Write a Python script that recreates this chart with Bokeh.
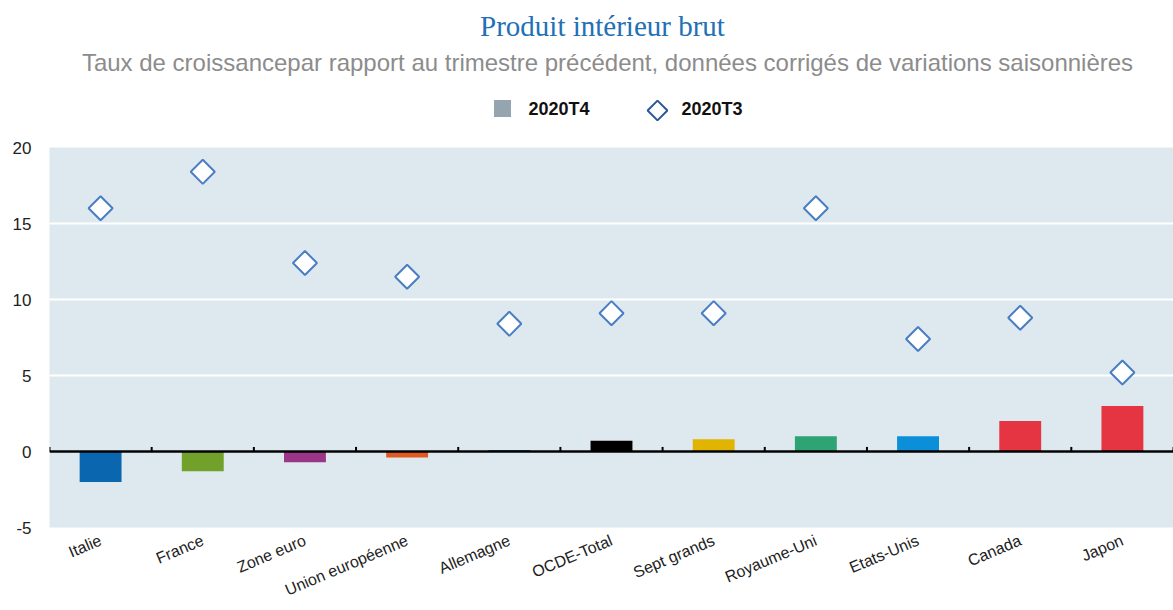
from bokeh.plotting import figure
from bokeh.layouts import column
from bokeh.models import ColumnDataSource, FixedTicker, Span
from bokeh.core.properties import value
from bokeh.embed import file_html
from bokeh.resources import INLINE
import math

title_text = "Produit intérieur brut"
subtitle_text = "Taux de croissancepar rapport au trimestre précédent, données corrigés de variations saisonnières"
series_names = ["2020T4", "2020T3"]
categories = ["Italie", "France", "Zone euro", "Union européenne", "Allemagne",
              "OCDE-Total", "Sept grands", "Royaume-Uni", "Etats-Unis", "Canada", "Japon"]
t4_values = [-2.0, -1.3, -0.7, -0.4, 0.1, 0.7, 0.8, 1.0, 1.0, 2.0, 3.0]
t3_values = [16.0, 18.4, 12.4, 11.5, 8.4, 9.1, 9.1, 16.0, 7.4, 8.8, 5.2]
bar_colors = ["#0B66B0", "#71A12A", "#9A3587", "#E05A1F", "#0A7FC7", "#000000",
              "#E0B400", "#2EA373", "#0A8FD8", "#E63542", "#E63542"]
y_ticks = [-5, 0, 5, 10, 15, 20]

W = 1173
LEFT = 49
HEAD_H = 137
MAIN_H = 473

# ---------- header (title, subtitle, legend) ----------
# frames are aligned in the column, so the header frame spans x = LEFT..W
head = figure(width=W, height=HEAD_H, x_range=(LEFT, W), y_range=(HEAD_H, 0),
              output_backend="svg", toolbar_location=None,
              x_axis_location=None, y_axis_location=None,
              min_border=0, min_border_left=LEFT, outline_line_color=None,
              border_fill_color="white", background_fill_color="white")
head.grid.visible = False
head.text(x=[602], y=[25], text=[title_text], text_align="center", text_baseline="middle",
          text_font=value("Liberation Serif"), text_font_size="29px", text_color="#2270B5")
head.text(x=[607], y=[62], text=[subtitle_text], text_align="center", text_baseline="middle",
          text_font=value("Liberation Sans"), text_font_size="24px", text_color="#8C8C8C")
head.scatter(x=[502], y=[108], marker="square", size=17, fill_color="#95A5B0", line_color=None)
head.scatter(x=[657], y=[110], marker="square", angle=math.pi / 4, size=14,
             fill_color="white", line_color="#2B5797", line_width=2)
head.text(x=[528, 681], y=[108, 108], text=series_names, text_align="left", text_baseline="middle",
          text_font=value("Liberation Sans"), text_font_style="bold", text_font_size="18px",
          text_color="#111111")

# ---------- main chart ----------
n = len(categories)
centers = [i + 0.5 for i in range(n)]
src = ColumnDataSource(dict(x=centers, t4=t4_values, t3=t3_values, color=bar_colors, cat=categories))

p = figure(width=W, height=MAIN_H, x_range=(0, n), y_range=(-5, 20),
           output_backend="svg", toolbar_location=None,
           min_border_left=LEFT, min_border_right=0, min_border_top=10, min_border_bottom=83,
           background_fill_color="#DEE8EF", border_fill_color="white", outline_line_color=None)

p.xgrid.visible = False
p.ygrid.grid_line_color = "white"
p.ygrid.grid_line_width = 2
p.yaxis.ticker = FixedTicker(ticks=y_ticks)
p.yaxis.major_label_overrides = {t: str(t) for t in y_ticks}
p.yaxis.axis_line_color = None
p.yaxis.major_tick_line_color = None
p.yaxis.minor_tick_line_color = None
p.yaxis.major_label_text_font = "Liberation Sans"
p.yaxis.major_label_text_font_size = "17px"
p.yaxis.major_label_text_color = "#222222"
p.yaxis.major_label_standoff = 12

p.xaxis.ticker = FixedTicker(ticks=centers)
p.xaxis.major_label_overrides = {c: lab for c, lab in zip(centers, categories)}
p.xaxis.axis_line_color = None
p.xaxis.major_tick_line_color = None
p.xaxis.minor_tick_line_color = None
p.xaxis.major_label_orientation = 0.4
p.xaxis.major_label_text_font = "Liberation Sans"
p.xaxis.major_label_text_font_size = "16px"
p.xaxis.major_label_text_color = "#222222"
p.xaxis.major_label_standoff = 6

p.vbar(x="x", top="t4", bottom=0, width=0.41, fill_color="color", line_color=None, source=src)

p.add_layout(Span(location=0, dimension="width", line_color="black", line_width=2.5))
bounds = list(range(n + 1))
p.segment(x0=bounds, x1=bounds, y0=[0] * len(bounds), y1=[0.3] * len(bounds),
          line_color="black", line_width=2)

p.scatter(x="x", y="t3", marker="square", angle=math.pi / 4, size=17,
          fill_color="white", line_color="#4A7EC2", line_width=2, source=src)

layout = column(head, p, spacing=0)
open("out.html", "w").write(file_html(layout, INLINE))
